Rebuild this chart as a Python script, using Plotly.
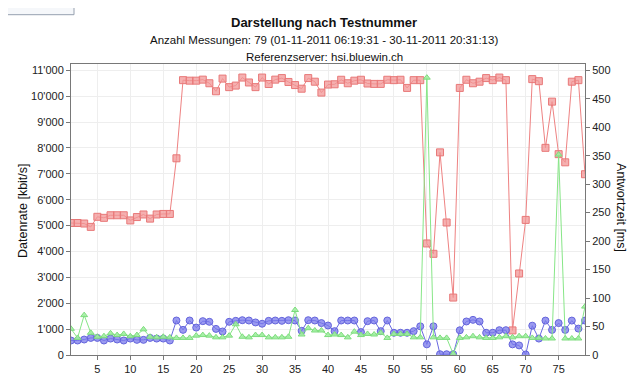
import plotly.graph_objects as go

test_nr = list(range(1, 80))

download_kbit = [5100, 5100, 5080, 4950, 5340, 5300, 5400, 5400, 5400, 5200, 5330, 5430, 5270, 5430, 5450, 5450,
                 7600,
                 10620, 10600, 10600, 10640, 10500, 10190, 10680, 10350, 10410, 10720, 10530, 10350, 10720, 10470,
                 10640, 10700, 10550, 10430, 10290, 10700, 10560, 10140, 10450,
                 10460, 10635, 10500, 10600, 10635, 10490, 10475, 10475, 10635, 10620, 10635, 10320, 10620, 10620,
                 4310, 3910, 7830, 5120, 2220, 10320,
                 10635, 10500, 10560, 10700, 10620, 10720, 10620,
                 950, 3150, 5220, 10660, 10580, 8005, 9790, 7760, 7445, 10560, 10620, 6985]

upload_kbit = [560, 560, 598, 660, 660, 560, 635, 598, 560, 635, 585, 585, 660, 635, 635, 560,
               1333, 971, 1333, 1059, 1308, 1283, 1009, 909, 1283, 1320, 1345, 1333, 1258, 1208, 1320, 1333,
               1320, 1345, 1333, 934, 1345, 1333, 1233, 1140,
               922, 1333, 1333, 1333, 885, 1307, 1333, 922, 1333, 859, 859, 859, 922, 1108, 411, 1108,
               30, 30, 30,
               955, 1295, 1358, 1295, 859, 859, 959, 959, 411, 370, 20, 1133, 635, 1330, 970, 1233, 970,
               1330, 1020, 1330]

ping_ms = [46, 30, 70, 39, 32, 33, 38, 35, 37, 33, 35, 45, 32, 31, 32, 31,
           30, 30, 30, 34, 35, 34, 31, 31, 34, 54, 32, 31, 35, 35, 31, 31, 31, 32, 79, 36, 47, 43, 43, 35,
           36, 35, 31, 41, 35, 37, 36, 39, 30, 37, 37, 37, 31, 31, 487, 31,
           30, 30, 2,
           30, 31, 33, 31, 30, 30, 31, 33, 31, 33, 33, 30, 30, 29, 29, 352, 29, 29, 29, 85]

left_ticks = list(range(0, 12000, 1000))
left_ticktext = ["0"] + [f"{v // 1000}'000" for v in left_ticks[1:]]
x_ticks = list(range(5, 80, 5))

FONT = "Liberation Sans, Arial, sans-serif"

fig = go.Figure()
fig.add_trace(go.Scatter(
    x=test_nr, y=download_kbit, mode="lines+markers", name="Download",
    line=dict(color="rgb(238,130,130)", width=1),
    marker=dict(symbol="square", size=7, color="rgba(242,150,150,0.75)",
                line=dict(color="rgb(232,120,120)", width=1)),
    yaxis="y"))
fig.add_trace(go.Scatter(
    x=test_nr, y=upload_kbit, mode="lines+markers", name="Upload",
    line=dict(color="rgb(105,105,225)", width=1),
    marker=dict(symbol="circle", size=7, color="rgba(120,120,235,0.75)",
                line=dict(color="rgb(100,100,220)", width=1)),
    yaxis="y"))
fig.add_trace(go.Scatter(
    x=test_nr, y=ping_ms, mode="lines+markers", name="Antwortzeit",
    line=dict(color="rgb(135,230,135)", width=1),
    marker=dict(symbol="triangle-up", size=6, color="rgba(160,238,160,0.85)",
                line=dict(color="rgb(125,220,125)", width=1)),
    yaxis="y2"))

axis_line = "rgb(120,120,120)"
fig.update_layout(
    width=636, height=379,
    margin=dict(l=63, r=59, t=56, b=22),
    paper_bgcolor="white", plot_bgcolor="white",
    showlegend=False,
    font=dict(family=FONT, size=11, color="#222"),
    xaxis=dict(range=[1, 79], tickvals=x_ticks, showgrid=True, gridcolor="rgb(238,238,238)",
               gridwidth=1, zeroline=False, showline=True, linecolor=axis_line, linewidth=1,
               mirror=True, ticks="outside", ticklen=4, tickcolor=axis_line,
               tickfont=dict(size=11, family=FONT, color="#222")),
    yaxis=dict(range=[0, 11244], tickvals=left_ticks, ticktext=left_ticktext, showgrid=True,
               gridcolor="rgb(238,238,238)", gridwidth=1, zeroline=False, showline=True,
               linecolor=axis_line, linewidth=1, ticks="outside", ticklen=4, tickcolor=axis_line,
               tickfont=dict(size=11, family=FONT, color="#222")),
    yaxis2=dict(range=[0, 511], dtick=50, tick0=0, overlaying="y", side="right", showgrid=False,
                zeroline=False, showline=True, linecolor=axis_line, linewidth=1, ticks="outside",
                ticklen=4, tickcolor=axis_line, tickfont=dict(size=11, family=FONT, color="#222")),
)

def py(px):
    return (357 - px) / 301.0

def pxx(px):
    return (px - 63) / 514.0

anns = [
    dict(text="<b>Darstellung nach Testnummer</b>", x=pxx(316), y=py(13), size=13),
    dict(text="Anzahl Messungen: 79 (01-11-2011 06:19:31 - 30-11-2011 20:31:13)", x=pxx(316), y=py(31), size=11.5),
    dict(text="Referenzserver: hsi.bluewin.ch", x=pxx(316), y=py(48.5), size=11.5),
]
for a in anns:
    fig.add_annotation(text=a["text"], x=a["x"], y=a["y"], xref="paper", yref="paper",
                       showarrow=False, xanchor="center", yanchor="middle",
                       font=dict(size=a["size"], family=FONT, color="#111"))

fig.add_annotation(text="Datenrate [kbit/s]", x=pxx(15), y=py(208), xref="paper", yref="paper",
                   showarrow=False, textangle=-90, xanchor="center", yanchor="middle",
                   font=dict(size=12.5, family=FONT, color="#111"))
fig.add_annotation(text="Antwortzeit [ms]", x=pxx(613), y=py(204), xref="paper", yref="paper",
                   showarrow=False, textangle=90, xanchor="center", yanchor="middle",
                   font=dict(size=12.5, family=FONT, color="#111"))

fig.add_shape(type="rect", xref="paper", yref="paper", x0=pxx(-2), x1=pxx(66), y0=py(5), y1=py(-3),
              line=dict(color="rgb(150,160,175)", width=1), fillcolor="rgb(245,247,250)")

fig.write_html("out.html")
